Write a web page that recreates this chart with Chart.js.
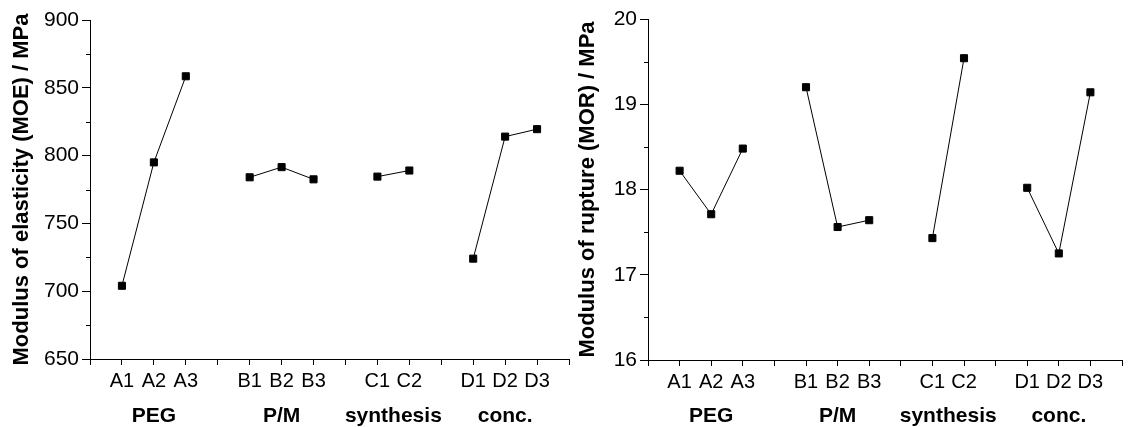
<!DOCTYPE html>
<html lang="en">
<head>
    <meta charset="UTF-8">
    <title>MOE / MOR</title>
    <style>
        body { margin: 0; background: #fff; width: 1128px; height: 427px; overflow: hidden; position: relative; }
        canvas { position: absolute; top: 0; }
        #moeChart { left: 0; }
        #morChart { left: 566px; }
    </style>
</head>
<body>

<canvas id="moeChart" width="575" height="427"></canvas>
<canvas id="morChart" width="562" height="427"></canvas>

<script src="https://cdn.jsdelivr.net/npm/chart.js"></script>
<script>
    // Factor levels along the x axis (blank = spacer tick between factors)
    const categories = ['', 'A1', 'A2', 'A3', '', 'B1', 'B2', 'B3', '', 'C1', 'C2', '', 'D1', 'D2', 'D3', ''];
    const groupKeys = ['A', 'B', 'C', 'D'];
    const groupNames = ['PEG', 'P/M', 'synthesis', 'conc.'];

    // Modulus of elasticity, MPa
    const moeValues = [null, 704, 795, 858.5, null, 784, 791.5, 782.5, null, 784.5, 789, null, 724, 814, 819.5, null];
    // Modulus of rupture, MPa
    const morValues = [null, 18.22, 17.71, 18.48, null, 19.20, 17.56, 17.64, null, 17.43, 19.54, null, 18.02, 17.25, 19.14, null];

    const moeTicks = { min: 650, max: 900, step: 50 };
    const morTicks = { min: 16, max: 20, step: 1 };

    const FONT = "'Liberation Sans', Arial, sans-serif";

    // minor ticks on y + factor names under the x axis
    const extras = {
        id: 'extras',
        afterDraw(chart) {
            const ctx = chart.ctx;
            const xs = chart.scales.x, ys = chart.scales.y;
            const left = chart.chartArea.left;
            const step = chart.options.scales.y.ticks.stepSize;
            ctx.save();
            ctx.strokeStyle = '#000';
            ctx.lineWidth = 1;
            for (let v = ys.min + step / 2; v < ys.max; v += step) {
                const py = Math.round(ys.getPixelForValue(v)) + 0.5;
                ctx.beginPath();
                ctx.moveTo(left - 4, py);
                ctx.lineTo(left, py);
                ctx.stroke();
            }
            ctx.font = 'bold 21px ' + FONT;
            ctx.fillStyle = '#000';
            ctx.textAlign = 'center';
            ctx.textBaseline = 'alphabetic';
            groupNames.forEach((name, i) => {
                const idx = [];
                categories.forEach((c, k) => { if (c.startsWith(groupKeys[i])) idx.push(k); });
                const cx = (xs.getPixelForValue(idx[0]) + xs.getPixelForValue(idx[idx.length - 1])) / 2;
                ctx.fillText(name, cx, 422);
            });
            ctx.restore();
        }
    };

    function makeChart(id, values, t, title, yWidth, xHeight, pad) {
        return new Chart(document.getElementById(id), {
            type: 'line',
            data: {
                labels: categories,
                datasets: [{
                    data: values,
                    borderColor: '#000',
                    borderWidth: 1,
                    backgroundColor: '#000',
                    pointStyle: 'rect',
                    pointRadius: 5,
                    pointBorderWidth: 1,
                    pointBackgroundColor: '#000',
                    pointBorderColor: '#000',
                    spanGaps: false
                }]
            },
            options: {
                responsive: false,
                animation: false,
                devicePixelRatio: 1,
                layout: { padding: pad },
                plugins: { legend: { display: false }, tooltip: { enabled: false } },
                scales: {
                    x: {
                        offset: false,
                        border: { color: '#000', width: 1 },
                        grid: { drawOnChartArea: false, color: '#000', tickLength: 6 },
                        ticks: {
                            autoSkip: false, maxRotation: 0, padding: 4, color: '#000',
                            font: { family: FONT, size: 20 }
                        },
                        afterFit(scale) { scale.height = xHeight; }
                    },
                    y: {
                        min: t.min,
                        max: t.max,
                        border: { color: '#000', width: 1 },
                        grid: { drawOnChartArea: false, color: '#000', tickLength: 8 },
                        ticks: {
                            stepSize: t.step, padding: 3, color: '#000',
                            font: { family: FONT, size: 21 }
                        },
                        title: {
                            display: true, text: title, color: '#000',
                            padding: { top: 9, bottom: 0 },
                            font: { family: FONT, size: 22, weight: 'bold' }
                        },
                        afterFit(scale) { scale.width = yWidth; }
                    }
                }
            },
            plugins: [extras]
        });
    }

    makeChart('moeChart', moeValues, moeTicks, 'Modulus of elasticity (MOE) / MPa', 90, 68,
        { top: 20, right: 6, bottom: 0, left: 0 });
    makeChart('morChart', morValues, morTicks, 'Modulus of rupture (MOR) / MPa', 82, 67,
        { top: 19, right: 1, bottom: 0, left: 0 });
</script>

</body>
</html>
